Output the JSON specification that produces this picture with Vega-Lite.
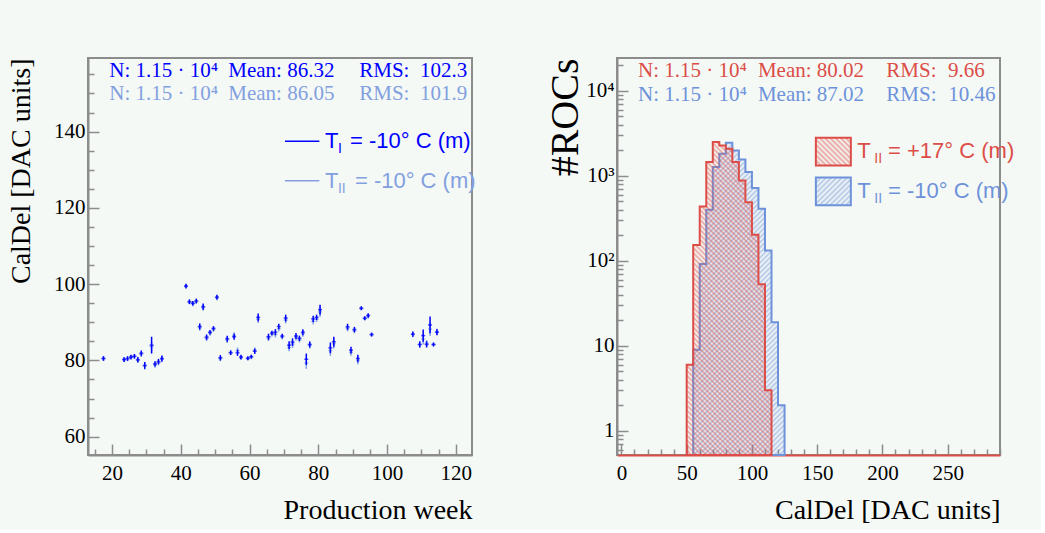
{
"$schema": "https://vega.github.io/schema/vega-lite/v6.json",
"background": "#f5f9f6",
"padding": {"left": 6, "top": 53, "right": 25, "bottom": 5},
"config": {
 "view": {"stroke": "#8c8c8c", "strokeWidth": 2},
 "axis": {"labelFont": "Liberation Serif", "titleFont": "Liberation Serif", "labelFontSize": 21, "titleFontSize": 28, "titleFontWeight": "normal", "labelColor": "#000000", "titleColor": "#000000", "domainColor": "#8c8c8c", "domainWidth": 2, "tickColor": "#8c8c8c", "tickWidth": 1.5, "grid": false, "labelFlush": false, "labelOverlap": false, "labelBound": false}
},
"bounds": "flush",
"spacing": 145,
"datasets": {
 "weekly": [
  {"s":"II","week":17.5,"v":80.5,"e":0.6},{"s":"II","week":23.5,"v":80.3,"e":0.6},{"s":"II","week":24.5,"v":80.4,"e":0.6},{"s":"II","week":25.5,"v":80.8,"e":0.6},{"s":"II","week":26.5,"v":81.0,"e":0.6},{"s":"II","week":27.5,"v":80.0,"e":0.7},{"s":"II","week":28.5,"v":81.6,"e":0.7},{"s":"II","week":29.5,"v":78.5,"e":0.9},{"s":"II","week":31.5,"v":83.6,"e":1.2},{"s":"II","week":32.5,"v":78.8,"e":0.7},{"s":"II","week":33.5,"v":79.4,"e":0.7},{"s":"II","week":34.5,"v":80.3,"e":0.8},
  {"s":"II","week":41.5,"v":99.4,"e":0.6},{"s":"II","week":42.5,"v":95.3,"e":0.6},{"s":"II","week":43.5,"v":94.8,"e":0.6},{"s":"II","week":44.5,"v":95.4,"e":0.6},{"s":"II","week":45.5,"v":88.6,"e":0.8},{"s":"II","week":46.5,"v":93.8,"e":0.8},{"s":"II","week":47.5,"v":85.8,"e":0.7},{"s":"II","week":48.5,"v":87.1,"e":0.6},{"s":"II","week":49.5,"v":88.1,"e":0.6},{"s":"II","week":50.5,"v":96.4,"e":0.6},{"s":"II","week":51.5,"v":80.5,"e":0.7},{"s":"II","week":53.5,"v":85.4,"e":0.8},{"s":"II","week":54.5,"v":82.1,"e":0.6},{"s":"II","week":55.5,"v":86.6,"e":0.8},{"s":"II","week":56.5,"v":82.6,"e":0.8},{"s":"II","week":57.5,"v":80.7,"e":0.6},{"s":"II","week":59.5,"v":80.4,"e":0.5},{"s":"II","week":60.5,"v":80.8,"e":0.5},{"s":"II","week":61.5,"v":82.7,"e":0.7},{"s":"II","week":62.5,"v":90.8,"e":1.0},
  {"s":"II","week":65.5,"v":85.9,"e":0.8},{"s":"II","week":66.5,"v":86.9,"e":0.6},{"s":"II","week":67.5,"v":86.8,"e":0.8},{"s":"II","week":68.5,"v":88.3,"e":0.7},{"s":"II","week":69.5,"v":86.1,"e":0.6},{"s":"II","week":70.5,"v":90.6,"e":0.9},{"s":"II","week":71.5,"v":83.4,"e":1.0},{"s":"II","week":72.5,"v":84.3,"e":1.0},{"s":"II","week":73.5,"v":86.0,"e":0.8},{"s":"II","week":74.5,"v":85.4,"e":0.7},{"s":"II","week":75.5,"v":87.0,"e":0.8},{"s":"II","week":76.5,"v":79.3,"e":1.5},{"s":"II","week":77.5,"v":83.9,"e":0.8},{"s":"II","week":78.5,"v":90.2,"e":0.8},{"s":"II","week":79.5,"v":90.8,"e":0.7},{"s":"II","week":80.5,"v":92.7,"e":1.3},
  {"s":"II","week":83.5,"v":82.6,"e":1.4},{"s":"II","week":84.5,"v":84.4,"e":1.3},{"s":"II","week":88.5,"v":88.4,"e":0.8},{"s":"II","week":89.5,"v":82.1,"e":0.9},{"s":"II","week":90.5,"v":87.8,"e":0.7},{"s":"II","week":91.5,"v":80.0,"e":1.0},{"s":"II","week":92.5,"v":93.6,"e":0.5},{"s":"II","week":93.5,"v":90.9,"e":0.5},{"s":"II","week":94.5,"v":91.6,"e":0.6},{"s":"II","week":95.5,"v":86.7,"e":0.5},
  {"s":"II","week":107.5,"v":86.8,"e":0.7},{"s":"II","week":109.5,"v":84.1,"e":0.8},{"s":"II","week":110.5,"v":85.6,"e":1.4},{"s":"II","week":111.5,"v":84.5,"e":0.8},{"s":"II","week":112.5,"v":88.2,"e":1.8},{"s":"II","week":113.5,"v":84.1,"e":0.5},{"s":"II","week":114.5,"v":87.5,"e":0.8},
  {"s":"I","week":17.5,"v":80.5,"e":0.6},{"s":"I","week":23.5,"v":80.2,"e":0.6},{"s":"I","week":24.5,"v":80.5,"e":0.6},{"s":"I","week":25.5,"v":80.9,"e":0.6},{"s":"I","week":26.5,"v":81.1,"e":0.6},{"s":"I","week":27.5,"v":80.2,"e":0.7},{"s":"I","week":28.5,"v":81.9,"e":0.7},{"s":"I","week":29.5,"v":78.7,"e":0.9},{"s":"I","week":31.5,"v":84.0,"e":2.2},{"s":"I","week":32.5,"v":79.1,"e":0.7},{"s":"I","week":33.5,"v":79.7,"e":0.7},{"s":"I","week":34.5,"v":80.5,"e":0.8},
  {"s":"I","week":41.5,"v":99.5,"e":0.6},{"s":"I","week":42.5,"v":95.4,"e":0.6},{"s":"I","week":43.5,"v":95.0,"e":0.6},{"s":"I","week":44.5,"v":95.6,"e":0.6},{"s":"I","week":45.5,"v":88.9,"e":0.8},{"s":"I","week":46.5,"v":94.1,"e":0.8},{"s":"I","week":47.5,"v":86.1,"e":0.7},{"s":"I","week":48.5,"v":87.4,"e":0.6},{"s":"I","week":49.5,"v":88.4,"e":0.6},{"s":"I","week":50.5,"v":96.6,"e":0.6},{"s":"I","week":51.5,"v":80.7,"e":0.7},{"s":"I","week":53.5,"v":85.7,"e":0.8},{"s":"I","week":54.5,"v":82.0,"e":0.6},{"s":"I","week":55.5,"v":86.2,"e":0.8},{"s":"I","week":56.5,"v":82.0,"e":0.8},{"s":"I","week":57.5,"v":80.9,"e":0.6},{"s":"I","week":59.5,"v":80.6,"e":0.5},{"s":"I","week":60.5,"v":81.0,"e":0.5},{"s":"I","week":61.5,"v":82.4,"e":0.7},{"s":"I","week":62.5,"v":91.3,"e":1.0},
  {"s":"I","week":65.5,"v":86.2,"e":0.8},{"s":"I","week":66.5,"v":87.2,"e":0.6},{"s":"I","week":67.5,"v":87.4,"e":0.8},{"s":"I","week":68.5,"v":88.9,"e":0.7},{"s":"I","week":69.5,"v":86.4,"e":0.6},{"s":"I","week":70.5,"v":91.1,"e":0.9},{"s":"I","week":71.5,"v":84.0,"e":1.0},{"s":"I","week":72.5,"v":84.8,"e":1.0},{"s":"I","week":73.5,"v":86.4,"e":0.8},{"s":"I","week":74.5,"v":85.8,"e":0.7},{"s":"I","week":75.5,"v":87.4,"e":0.8},{"s":"I","week":76.5,"v":80.3,"e":1.5},{"s":"I","week":77.5,"v":84.2,"e":0.8},{"s":"I","week":78.5,"v":90.9,"e":0.8},{"s":"I","week":79.5,"v":91.3,"e":0.7},{"s":"I","week":80.5,"v":93.3,"e":1.3},
  {"s":"I","week":83.5,"v":83.3,"e":1.4},{"s":"I","week":84.5,"v":84.9,"e":1.3},{"s":"I","week":88.5,"v":88.8,"e":0.8},{"s":"I","week":89.5,"v":82.7,"e":0.9},{"s":"I","week":90.5,"v":88.1,"e":0.7},{"s":"I","week":91.5,"v":80.5,"e":1.0},{"s":"I","week":92.5,"v":93.7,"e":0.5},{"s":"I","week":93.5,"v":91.1,"e":0.5},{"s":"I","week":94.5,"v":91.8,"e":0.6},{"s":"I","week":95.5,"v":86.8,"e":0.5},
  {"s":"I","week":107.5,"v":86.9,"e":0.7},{"s":"I","week":109.5,"v":84.2,"e":0.8},{"s":"I","week":110.5,"v":86.5,"e":1.6},{"s":"I","week":111.5,"v":84.2,"e":0.8},{"s":"I","week":112.5,"v":89.3,"e":2.2},{"s":"I","week":113.5,"v":84.2,"e":0.5},{"s":"I","week":114.5,"v":87.4,"e":0.8}
 ],
 "red": [
  {"lo":50,"hi":55,"n":6},{"lo":55,"hi":60,"n":154},{"lo":60,"hi":65,"n":435},{"lo":65,"hi":70,"n":1450},{"lo":70,"hi":75,"n":2490},{"lo":75,"hi":80,"n":2275},{"lo":80,"hi":85,"n":2080},{"lo":85,"hi":90,"n":1450},{"lo":90,"hi":95,"n":880},{"lo":95,"hi":100,"n":490},{"lo":100,"hi":105,"n":202},{"lo":105,"hi":110,"n":53},{"lo":110,"hi":115,"n":3}
 ],
 "blue": [
  {"lo":55,"hi":60,"n":9},{"lo":60,"hi":65,"n":92},{"lo":65,"hi":70,"n":398},{"lo":70,"hi":75,"n":1266},{"lo":75,"hi":80,"n":1815},{"lo":80,"hi":85,"n":2445},{"lo":85,"hi":90,"n":1985},{"lo":90,"hi":95,"n":1555},{"lo":95,"hi":100,"n":1105},{"lo":100,"hi":105,"n":717},{"lo":105,"hi":110,"n":409},{"lo":110,"hi":115,"n":132},{"lo":115,"hi":120,"n":19},{"lo":120,"hi":125,"n":2}
 ]
},
"hconcat": [
 {
  "width": 384, "height": 397,
  "data": {"values": [{}]},
  "resolve": {"axis": {"x": "independent", "y": "independent"}},
  "layer": [
   {"data": {"name": "weekly"}, "transform": [{"filter": "datum.s == 'II'"}],
    "mark": {"type": "tick", "orient": "horizontal", "size": 4, "thickness": 1.5, "color": "#82a0e0"},
    "encoding": {
     "x": {"field": "week", "type": "quantitative", "scale": {"domain": [13, 124.7], "nice": false, "zero": false},
      "axis": {"title": "Production week", "titleAnchor": "end", "titlePadding": 8,
       "values": [15,20,25,30,35,40,45,50,55,60,65,70,75,80,85,90,95,100,105,110,115,120],
       "labelExpr": "datum.value % 20 == 0 ? datum.label : ''",
       "tickSize": {"condition": {"test": "datum.value % 20 == 0", "value": -11}, "value": -6},
       "labelPadding": 18}},
     "y": {"field": "v", "type": "quantitative", "scale": {"domain": [55.2, 159.3], "nice": false, "zero": false},
      "axis": {"title": "CalDel [DAC units]", "titleAnchor": "end", "titlePadding": 18,
       "values": [60,65,70,75,80,85,90,95,100,105,110,115,120,125,130,135,140,145,150,155],
       "labelExpr": "datum.value % 20 == 0 ? datum.label : ''",
       "tickSize": {"condition": {"test": "datum.value % 20 == 0", "value": -11}, "value": -6},
       "labelPadding": 14}}
    }},
   {"data": {"name": "weekly"}, "transform": [{"filter": "datum.s == 'II'"}],
    "mark": {"type": "errorbar", "ticks": false, "color": "#82a0e0", "thickness": 1.5},
    "encoding": {"x": {"field": "week", "type": "quantitative", "axis": null}, "y": {"field": "v", "type": "quantitative", "axis": null}, "yError": {"field": "e"}}},
   {"data": {"name": "weekly"}, "transform": [{"filter": "datum.s == 'I'"}],
    "mark": {"type": "errorbar", "ticks": false, "color": "#0000ff", "thickness": 1.5},
    "encoding": {"x": {"field": "week", "type": "quantitative", "axis": null}, "y": {"field": "v", "type": "quantitative", "axis": null}, "yError": {"field": "e"}}},
   {"data": {"name": "weekly"}, "transform": [{"filter": "datum.s == 'I'"}],
    "mark": {"type": "tick", "orient": "horizontal", "size": 4, "thickness": 1.5, "color": "#0000ff"},
    "encoding": {"x": {"field": "week", "type": "quantitative", "axis": null}, "y": {"field": "v", "type": "quantitative", "axis": null}}},
   {"mark": {"type": "text", "text": "N: 1.15 · 10⁴", "align": "left", "baseline": "middle", "font": "Liberation Serif", "fontSize": 21, "color": "#0000ff"},
    "encoding": {"x": {"datum": 19.2, "type": "quantitative", "axis": null}, "y": {"datum": 155.97, "type": "quantitative", "axis": null}}},
   {"mark": {"type": "text", "text": "Mean: 86.32", "align": "left", "baseline": "middle", "font": "Liberation Serif", "fontSize": 21, "color": "#0000ff"},
    "encoding": {"x": {"datum": 53.8, "type": "quantitative", "axis": null}, "y": {"datum": 155.97, "type": "quantitative", "axis": null}}},
   {"mark": {"type": "text", "text": "RMS:", "align": "left", "baseline": "middle", "font": "Liberation Serif", "fontSize": 21, "color": "#0000ff"},
    "encoding": {"x": {"datum": 91.9, "type": "quantitative", "axis": null}, "y": {"datum": 155.97, "type": "quantitative", "axis": null}}},
   {"mark": {"type": "text", "text": "102.3", "align": "left", "baseline": "middle", "font": "Liberation Serif", "fontSize": 21, "color": "#0000ff"},
    "encoding": {"x": {"datum": 109.6, "type": "quantitative", "axis": null}, "y": {"datum": 155.97, "type": "quantitative", "axis": null}}},
   {"mark": {"type": "text", "text": "N: 1.15 · 10⁴", "align": "left", "baseline": "middle", "font": "Liberation Serif", "fontSize": 21, "color": "#82a0e0"},
    "encoding": {"x": {"datum": 19.2, "type": "quantitative", "axis": null}, "y": {"datum": 149.86, "type": "quantitative", "axis": null}}},
   {"mark": {"type": "text", "text": "Mean: 86.05", "align": "left", "baseline": "middle", "font": "Liberation Serif", "fontSize": 21, "color": "#82a0e0"},
    "encoding": {"x": {"datum": 53.8, "type": "quantitative", "axis": null}, "y": {"datum": 149.86, "type": "quantitative", "axis": null}}},
   {"mark": {"type": "text", "text": "RMS:", "align": "left", "baseline": "middle", "font": "Liberation Serif", "fontSize": 21, "color": "#82a0e0"},
    "encoding": {"x": {"datum": 91.9, "type": "quantitative", "axis": null}, "y": {"datum": 149.86, "type": "quantitative", "axis": null}}},
   {"mark": {"type": "text", "text": "101.9", "align": "left", "baseline": "middle", "font": "Liberation Serif", "fontSize": 21, "color": "#82a0e0"},
    "encoding": {"x": {"datum": 109.6, "type": "quantitative", "axis": null}, "y": {"datum": 149.86, "type": "quantitative", "axis": null}}},
   {"mark": {"type": "rule", "color": "#0000ff", "strokeWidth": 1.5},
    "encoding": {"x": {"datum": 70.3, "type": "quantitative", "axis": null}, "x2": {"datum": 80.3}, "y": {"datum": 137.46, "type": "quantitative", "axis": null}}},
   {"mark": {"type": "rule", "color": "#82a0e0", "strokeWidth": 1.5},
    "encoding": {"x": {"datum": 70.3, "type": "quantitative", "axis": null}, "x2": {"datum": 80.3}, "y": {"datum": 127.13, "type": "quantitative", "axis": null}}},
   {"mark": {"type": "text", "text": "T", "align": "left", "baseline": "middle", "font": "Liberation Sans", "fontSize": 22, "color": "#0000ff"},
    "encoding": {"x": {"datum": 81.96, "type": "quantitative", "axis": null}, "y": {"datum": 137.46, "type": "quantitative", "axis": null}}},
   {"mark": {"type": "text", "text": "I", "align": "left", "baseline": "middle", "font": "Liberation Sans", "fontSize": 14, "dy": 8, "color": "#0000ff"},
    "encoding": {"x": {"datum": 85.7, "type": "quantitative", "axis": null}, "y": {"datum": 137.46, "type": "quantitative", "axis": null}}},
   {"mark": {"type": "text", "text": "= -10° C (m)", "align": "left", "baseline": "middle", "font": "Liberation Sans", "fontSize": 22, "color": "#0000ff"},
    "encoding": {"x": {"datum": 89.2, "type": "quantitative", "axis": null}, "y": {"datum": 137.46, "type": "quantitative", "axis": null}}},
   {"mark": {"type": "text", "text": "T", "align": "left", "baseline": "middle", "font": "Liberation Sans", "fontSize": 22, "color": "#82a0e0"},
    "encoding": {"x": {"datum": 81.96, "type": "quantitative", "axis": null}, "y": {"datum": 127.13, "type": "quantitative", "axis": null}}},
   {"mark": {"type": "text", "text": "II", "align": "left", "baseline": "middle", "font": "Liberation Sans", "fontSize": 14, "dy": 8, "color": "#82a0e0"},
    "encoding": {"x": {"datum": 85.7, "type": "quantitative", "axis": null}, "y": {"datum": 127.13, "type": "quantitative", "axis": null}}},
   {"mark": {"type": "text", "text": "= -10° C (m)", "align": "left", "baseline": "middle", "font": "Liberation Sans", "fontSize": 22, "color": "#82a0e0"},
    "encoding": {"x": {"datum": 90.65, "type": "quantitative", "axis": null}, "y": {"datum": 127.13, "type": "quantitative", "axis": null}}}
  ]
 },
 {
  "width": 383, "height": 397,
  "data": {"values": [{}]},
  "resolve": {"axis": {"x": "independent", "y": "independent"}},
  "layer": [
   {"data": {"name": "blue"}, "transform": [{"fold": ["lo", "hi"], "as": ["edge", "xe"]}],
    "mark": {"type": "area", "interpolate": "linear", "stroke": "#6d92da", "strokeWidth": 2,
     "fill": {"gradient": "linear", "x1": 0, "y1": 0, "x2": 0.3484, "y2": 1.1907, "stops": [
      {"offset":0,"color":"#6d92da80"},{"offset":0.00625,"color":"#6d92da00"},{"offset":0.0125,"color":"#6d92da80"},{"offset":0.01875,"color":"#6d92da00"},{"offset":0.025,"color":"#6d92da80"},{"offset":0.03125,"color":"#6d92da00"},{"offset":0.0375,"color":"#6d92da80"},{"offset":0.04375,"color":"#6d92da00"},{"offset":0.05,"color":"#6d92da80"},{"offset":0.05625,"color":"#6d92da00"},{"offset":0.0625,"color":"#6d92da80"},{"offset":0.06875,"color":"#6d92da00"},{"offset":0.075,"color":"#6d92da80"},{"offset":0.08125,"color":"#6d92da00"},{"offset":0.0875,"color":"#6d92da80"},{"offset":0.09375,"color":"#6d92da00"},
      {"offset":0.1,"color":"#6d92da80"},{"offset":0.10625,"color":"#6d92da00"},{"offset":0.1125,"color":"#6d92da80"},{"offset":0.11875,"color":"#6d92da00"},{"offset":0.125,"color":"#6d92da80"},{"offset":0.13125,"color":"#6d92da00"},{"offset":0.1375,"color":"#6d92da80"},{"offset":0.14375,"color":"#6d92da00"},{"offset":0.15,"color":"#6d92da80"},{"offset":0.15625,"color":"#6d92da00"},{"offset":0.1625,"color":"#6d92da80"},{"offset":0.16875,"color":"#6d92da00"},{"offset":0.175,"color":"#6d92da80"},{"offset":0.18125,"color":"#6d92da00"},{"offset":0.1875,"color":"#6d92da80"},{"offset":0.19375,"color":"#6d92da00"},
      {"offset":0.2,"color":"#6d92da80"},{"offset":0.20625,"color":"#6d92da00"},{"offset":0.2125,"color":"#6d92da80"},{"offset":0.21875,"color":"#6d92da00"},{"offset":0.225,"color":"#6d92da80"},{"offset":0.23125,"color":"#6d92da00"},{"offset":0.2375,"color":"#6d92da80"},{"offset":0.24375,"color":"#6d92da00"},{"offset":0.25,"color":"#6d92da80"},{"offset":0.25625,"color":"#6d92da00"},{"offset":0.2625,"color":"#6d92da80"},{"offset":0.26875,"color":"#6d92da00"},{"offset":0.275,"color":"#6d92da80"},{"offset":0.28125,"color":"#6d92da00"},{"offset":0.2875,"color":"#6d92da80"},{"offset":0.29375,"color":"#6d92da00"},
      {"offset":0.3,"color":"#6d92da80"},{"offset":0.30625,"color":"#6d92da00"},{"offset":0.3125,"color":"#6d92da80"},{"offset":0.31875,"color":"#6d92da00"},{"offset":0.325,"color":"#6d92da80"},{"offset":0.33125,"color":"#6d92da00"},{"offset":0.3375,"color":"#6d92da80"},{"offset":0.34375,"color":"#6d92da00"},{"offset":0.35,"color":"#6d92da80"},{"offset":0.35625,"color":"#6d92da00"},{"offset":0.3625,"color":"#6d92da80"},{"offset":0.36875,"color":"#6d92da00"},{"offset":0.375,"color":"#6d92da80"},{"offset":0.38125,"color":"#6d92da00"},{"offset":0.3875,"color":"#6d92da80"},{"offset":0.39375,"color":"#6d92da00"},
      {"offset":0.4,"color":"#6d92da80"},{"offset":0.40625,"color":"#6d92da00"},{"offset":0.4125,"color":"#6d92da80"},{"offset":0.41875,"color":"#6d92da00"},{"offset":0.425,"color":"#6d92da80"},{"offset":0.43125,"color":"#6d92da00"},{"offset":0.4375,"color":"#6d92da80"},{"offset":0.44375,"color":"#6d92da00"},{"offset":0.45,"color":"#6d92da80"},{"offset":0.45625,"color":"#6d92da00"},{"offset":0.4625,"color":"#6d92da80"},{"offset":0.46875,"color":"#6d92da00"},{"offset":0.475,"color":"#6d92da80"},{"offset":0.48125,"color":"#6d92da00"},{"offset":0.4875,"color":"#6d92da80"},{"offset":0.49375,"color":"#6d92da00"},
      {"offset":0.5,"color":"#6d92da80"},{"offset":0.50625,"color":"#6d92da00"},{"offset":0.5125,"color":"#6d92da80"},{"offset":0.51875,"color":"#6d92da00"},{"offset":0.525,"color":"#6d92da80"},{"offset":0.53125,"color":"#6d92da00"},{"offset":0.5375,"color":"#6d92da80"},{"offset":0.54375,"color":"#6d92da00"},{"offset":0.55,"color":"#6d92da80"},{"offset":0.55625,"color":"#6d92da00"},{"offset":0.5625,"color":"#6d92da80"},{"offset":0.56875,"color":"#6d92da00"},{"offset":0.575,"color":"#6d92da80"},{"offset":0.58125,"color":"#6d92da00"},{"offset":0.5875,"color":"#6d92da80"},{"offset":0.59375,"color":"#6d92da00"},
      {"offset":0.6,"color":"#6d92da80"},{"offset":0.60625,"color":"#6d92da00"},{"offset":0.6125,"color":"#6d92da80"},{"offset":0.61875,"color":"#6d92da00"},{"offset":0.625,"color":"#6d92da80"},{"offset":0.63125,"color":"#6d92da00"},{"offset":0.6375,"color":"#6d92da80"},{"offset":0.64375,"color":"#6d92da00"},{"offset":0.65,"color":"#6d92da80"},{"offset":0.65625,"color":"#6d92da00"},{"offset":0.6625,"color":"#6d92da80"},{"offset":0.66875,"color":"#6d92da00"},{"offset":0.675,"color":"#6d92da80"},{"offset":0.68125,"color":"#6d92da00"},{"offset":0.6875,"color":"#6d92da80"},{"offset":0.69375,"color":"#6d92da00"},
      {"offset":0.7,"color":"#6d92da80"},{"offset":0.70625,"color":"#6d92da00"},{"offset":0.7125,"color":"#6d92da80"},{"offset":0.71875,"color":"#6d92da00"},{"offset":0.725,"color":"#6d92da80"},{"offset":0.73125,"color":"#6d92da00"},{"offset":0.7375,"color":"#6d92da80"},{"offset":0.74375,"color":"#6d92da00"},{"offset":0.75,"color":"#6d92da80"},{"offset":0.75625,"color":"#6d92da00"},{"offset":0.7625,"color":"#6d92da80"},{"offset":0.76875,"color":"#6d92da00"},{"offset":0.775,"color":"#6d92da80"},{"offset":0.78125,"color":"#6d92da00"},{"offset":0.7875,"color":"#6d92da80"},{"offset":0.79375,"color":"#6d92da00"},
      {"offset":0.8,"color":"#6d92da80"},{"offset":0.80625,"color":"#6d92da00"},{"offset":0.8125,"color":"#6d92da80"},{"offset":0.81875,"color":"#6d92da00"},{"offset":0.825,"color":"#6d92da80"},{"offset":0.83125,"color":"#6d92da00"},{"offset":0.8375,"color":"#6d92da80"},{"offset":0.84375,"color":"#6d92da00"},{"offset":0.85,"color":"#6d92da80"},{"offset":0.85625,"color":"#6d92da00"},{"offset":0.8625,"color":"#6d92da80"},{"offset":0.86875,"color":"#6d92da00"},{"offset":0.875,"color":"#6d92da80"},{"offset":0.88125,"color":"#6d92da00"},{"offset":0.8875,"color":"#6d92da80"},{"offset":0.89375,"color":"#6d92da00"},
      {"offset":0.9,"color":"#6d92da80"},{"offset":0.90625,"color":"#6d92da00"},{"offset":0.9125,"color":"#6d92da80"},{"offset":0.91875,"color":"#6d92da00"},{"offset":0.925,"color":"#6d92da80"},{"offset":0.93125,"color":"#6d92da00"},{"offset":0.9375,"color":"#6d92da80"},{"offset":0.94375,"color":"#6d92da00"},{"offset":0.95,"color":"#6d92da80"},{"offset":0.95625,"color":"#6d92da00"},{"offset":0.9625,"color":"#6d92da80"},{"offset":0.96875,"color":"#6d92da00"},{"offset":0.975,"color":"#6d92da80"},{"offset":0.98125,"color":"#6d92da00"},{"offset":0.9875,"color":"#6d92da80"},{"offset":0.99375,"color":"#6d92da00"},
      {"offset":1,"color":"#6d92da80"}]}},
    "encoding": {
     "x": {"field": "xe", "type": "quantitative", "scale": {"domain": [-3.4, 290.1], "nice": false, "zero": false},
      "axis": {"title": "CalDel [DAC units]", "titleAnchor": "end", "titlePadding": 8,
       "values": [0,10,20,30,40,50,60,70,80,90,100,110,120,130,140,150,160,170,180,190,200,210,220,230,240,250,260,270,280,290],
       "labelExpr": "datum.value % 50 == 0 ? datum.label : ''",
       "tickSize": {"condition": {"test": "datum.value % 50 == 0", "value": -11}, "value": -6},
       "labelPadding": 18, "domainColor": "#dc4d47"}},
     "y": {"field": "n", "type": "quantitative", "scale": {"type": "log", "domain": [0.52, 24300], "nice": false},
      "axis": {"title": "#ROCs", "titleAnchor": "end", "titlePadding": 0, "titleFontSize": 40,
       "values": [0.6,0.7,0.8,0.9,1,2,3,4,5,6,7,8,9,10,20,30,40,50,60,70,80,90,100,200,300,400,500,600,700,800,900,1000,2000,3000,4000,5000,6000,7000,8000,9000,10000,20000],
       "labelExpr": "datum.value == 1 ? '1' : datum.value == 10 ? '10' : datum.value == 100 ? '10²' : datum.value == 1000 ? '10³' : datum.value == 10000 ? '10⁴' : ''",
       "tickSize": {"condition": {"test": "indexof([1,10,100,1000,10000], datum.value) >= 0", "value": -11}, "value": -6},
       "labelPadding": 14}},
     "y2": {"datum": 0.52}
    }},
   {"data": {"name": "red"}, "transform": [{"fold": ["lo", "hi"], "as": ["edge", "xe"]}],
    "mark": {"type": "area", "interpolate": "linear", "stroke": "#dc4d47", "strokeWidth": 2,
     "fill": {"gradient": "linear", "x1": 0, "y1": 1, "x2": 0.3208, "y2": -0.1838, "stops": [
      {"offset":0,"color":"#dc4d4780"},{"offset":0.00625,"color":"#dc4d4700"},{"offset":0.0125,"color":"#dc4d4780"},{"offset":0.01875,"color":"#dc4d4700"},{"offset":0.025,"color":"#dc4d4780"},{"offset":0.03125,"color":"#dc4d4700"},{"offset":0.0375,"color":"#dc4d4780"},{"offset":0.04375,"color":"#dc4d4700"},{"offset":0.05,"color":"#dc4d4780"},{"offset":0.05625,"color":"#dc4d4700"},{"offset":0.0625,"color":"#dc4d4780"},{"offset":0.06875,"color":"#dc4d4700"},{"offset":0.075,"color":"#dc4d4780"},{"offset":0.08125,"color":"#dc4d4700"},{"offset":0.0875,"color":"#dc4d4780"},{"offset":0.09375,"color":"#dc4d4700"},
      {"offset":0.1,"color":"#dc4d4780"},{"offset":0.10625,"color":"#dc4d4700"},{"offset":0.1125,"color":"#dc4d4780"},{"offset":0.11875,"color":"#dc4d4700"},{"offset":0.125,"color":"#dc4d4780"},{"offset":0.13125,"color":"#dc4d4700"},{"offset":0.1375,"color":"#dc4d4780"},{"offset":0.14375,"color":"#dc4d4700"},{"offset":0.15,"color":"#dc4d4780"},{"offset":0.15625,"color":"#dc4d4700"},{"offset":0.1625,"color":"#dc4d4780"},{"offset":0.16875,"color":"#dc4d4700"},{"offset":0.175,"color":"#dc4d4780"},{"offset":0.18125,"color":"#dc4d4700"},{"offset":0.1875,"color":"#dc4d4780"},{"offset":0.19375,"color":"#dc4d4700"},
      {"offset":0.2,"color":"#dc4d4780"},{"offset":0.20625,"color":"#dc4d4700"},{"offset":0.2125,"color":"#dc4d4780"},{"offset":0.21875,"color":"#dc4d4700"},{"offset":0.225,"color":"#dc4d4780"},{"offset":0.23125,"color":"#dc4d4700"},{"offset":0.2375,"color":"#dc4d4780"},{"offset":0.24375,"color":"#dc4d4700"},{"offset":0.25,"color":"#dc4d4780"},{"offset":0.25625,"color":"#dc4d4700"},{"offset":0.2625,"color":"#dc4d4780"},{"offset":0.26875,"color":"#dc4d4700"},{"offset":0.275,"color":"#dc4d4780"},{"offset":0.28125,"color":"#dc4d4700"},{"offset":0.2875,"color":"#dc4d4780"},{"offset":0.29375,"color":"#dc4d4700"},
      {"offset":0.3,"color":"#dc4d4780"},{"offset":0.30625,"color":"#dc4d4700"},{"offset":0.3125,"color":"#dc4d4780"},{"offset":0.31875,"color":"#dc4d4700"},{"offset":0.325,"color":"#dc4d4780"},{"offset":0.33125,"color":"#dc4d4700"},{"offset":0.3375,"color":"#dc4d4780"},{"offset":0.34375,"color":"#dc4d4700"},{"offset":0.35,"color":"#dc4d4780"},{"offset":0.35625,"color":"#dc4d4700"},{"offset":0.3625,"color":"#dc4d4780"},{"offset":0.36875,"color":"#dc4d4700"},{"offset":0.375,"color":"#dc4d4780"},{"offset":0.38125,"color":"#dc4d4700"},{"offset":0.3875,"color":"#dc4d4780"},{"offset":0.39375,"color":"#dc4d4700"},
      {"offset":0.4,"color":"#dc4d4780"},{"offset":0.40625,"color":"#dc4d4700"},{"offset":0.4125,"color":"#dc4d4780"},{"offset":0.41875,"color":"#dc4d4700"},{"offset":0.425,"color":"#dc4d4780"},{"offset":0.43125,"color":"#dc4d4700"},{"offset":0.4375,"color":"#dc4d4780"},{"offset":0.44375,"color":"#dc4d4700"},{"offset":0.45,"color":"#dc4d4780"},{"offset":0.45625,"color":"#dc4d4700"},{"offset":0.4625,"color":"#dc4d4780"},{"offset":0.46875,"color":"#dc4d4700"},{"offset":0.475,"color":"#dc4d4780"},{"offset":0.48125,"color":"#dc4d4700"},{"offset":0.4875,"color":"#dc4d4780"},{"offset":0.49375,"color":"#dc4d4700"},
      {"offset":0.5,"color":"#dc4d4780"},{"offset":0.50625,"color":"#dc4d4700"},{"offset":0.5125,"color":"#dc4d4780"},{"offset":0.51875,"color":"#dc4d4700"},{"offset":0.525,"color":"#dc4d4780"},{"offset":0.53125,"color":"#dc4d4700"},{"offset":0.5375,"color":"#dc4d4780"},{"offset":0.54375,"color":"#dc4d4700"},{"offset":0.55,"color":"#dc4d4780"},{"offset":0.55625,"color":"#dc4d4700"},{"offset":0.5625,"color":"#dc4d4780"},{"offset":0.56875,"color":"#dc4d4700"},{"offset":0.575,"color":"#dc4d4780"},{"offset":0.58125,"color":"#dc4d4700"},{"offset":0.5875,"color":"#dc4d4780"},{"offset":0.59375,"color":"#dc4d4700"},
      {"offset":0.6,"color":"#dc4d4780"},{"offset":0.60625,"color":"#dc4d4700"},{"offset":0.6125,"color":"#dc4d4780"},{"offset":0.61875,"color":"#dc4d4700"},{"offset":0.625,"color":"#dc4d4780"},{"offset":0.63125,"color":"#dc4d4700"},{"offset":0.6375,"color":"#dc4d4780"},{"offset":0.64375,"color":"#dc4d4700"},{"offset":0.65,"color":"#dc4d4780"},{"offset":0.65625,"color":"#dc4d4700"},{"offset":0.6625,"color":"#dc4d4780"},{"offset":0.66875,"color":"#dc4d4700"},{"offset":0.675,"color":"#dc4d4780"},{"offset":0.68125,"color":"#dc4d4700"},{"offset":0.6875,"color":"#dc4d4780"},{"offset":0.69375,"color":"#dc4d4700"},
      {"offset":0.7,"color":"#dc4d4780"},{"offset":0.70625,"color":"#dc4d4700"},{"offset":0.7125,"color":"#dc4d4780"},{"offset":0.71875,"color":"#dc4d4700"},{"offset":0.725,"color":"#dc4d4780"},{"offset":0.73125,"color":"#dc4d4700"},{"offset":0.7375,"color":"#dc4d4780"},{"offset":0.74375,"color":"#dc4d4700"},{"offset":0.75,"color":"#dc4d4780"},{"offset":0.75625,"color":"#dc4d4700"},{"offset":0.7625,"color":"#dc4d4780"},{"offset":0.76875,"color":"#dc4d4700"},{"offset":0.775,"color":"#dc4d4780"},{"offset":0.78125,"color":"#dc4d4700"},{"offset":0.7875,"color":"#dc4d4780"},{"offset":0.79375,"color":"#dc4d4700"},
      {"offset":0.8,"color":"#dc4d4780"},{"offset":0.80625,"color":"#dc4d4700"},{"offset":0.8125,"color":"#dc4d4780"},{"offset":0.81875,"color":"#dc4d4700"},{"offset":0.825,"color":"#dc4d4780"},{"offset":0.83125,"color":"#dc4d4700"},{"offset":0.8375,"color":"#dc4d4780"},{"offset":0.84375,"color":"#dc4d4700"},{"offset":0.85,"color":"#dc4d4780"},{"offset":0.85625,"color":"#dc4d4700"},{"offset":0.8625,"color":"#dc4d4780"},{"offset":0.86875,"color":"#dc4d4700"},{"offset":0.875,"color":"#dc4d4780"},{"offset":0.88125,"color":"#dc4d4700"},{"offset":0.8875,"color":"#dc4d4780"},{"offset":0.89375,"color":"#dc4d4700"},
      {"offset":0.9,"color":"#dc4d4780"},{"offset":0.90625,"color":"#dc4d4700"},{"offset":0.9125,"color":"#dc4d4780"},{"offset":0.91875,"color":"#dc4d4700"},{"offset":0.925,"color":"#dc4d4780"},{"offset":0.93125,"color":"#dc4d4700"},{"offset":0.9375,"color":"#dc4d4780"},{"offset":0.94375,"color":"#dc4d4700"},{"offset":0.95,"color":"#dc4d4780"},{"offset":0.95625,"color":"#dc4d4700"},{"offset":0.9625,"color":"#dc4d4780"},{"offset":0.96875,"color":"#dc4d4700"},{"offset":0.975,"color":"#dc4d4780"},{"offset":0.98125,"color":"#dc4d4700"},{"offset":0.9875,"color":"#dc4d4780"},{"offset":0.99375,"color":"#dc4d4700"},
      {"offset":1,"color":"#dc4d4780"}]}},
    "encoding": {"x": {"field": "xe", "type": "quantitative", "axis": null}, "y": {"field": "n", "type": "quantitative", "axis": null}, "y2": {"datum": 0.52}}},
   {"mark": {"type": "text", "text": "N: 1.15 · 10⁴", "align": "left", "baseline": "middle", "font": "Liberation Serif", "fontSize": 21, "color": "#dc4d47"},
    "encoding": {"x": {"datum": 12.7, "type": "quantitative", "axis": null}, "y": {"datum": 17220, "type": "quantitative", "axis": null}}},
   {"mark": {"type": "text", "text": "Mean: 80.02", "align": "left", "baseline": "middle", "font": "Liberation Serif", "fontSize": 21, "color": "#dc4d47"},
    "encoding": {"x": {"datum": 104.6, "type": "quantitative", "axis": null}, "y": {"datum": 17220, "type": "quantitative", "axis": null}}},
   {"mark": {"type": "text", "text": "RMS:", "align": "left", "baseline": "middle", "font": "Liberation Serif", "fontSize": 21, "color": "#dc4d47"},
    "encoding": {"x": {"datum": 203.0, "type": "quantitative", "axis": null}, "y": {"datum": 17220, "type": "quantitative", "axis": null}}},
   {"mark": {"type": "text", "text": "9.66", "align": "left", "baseline": "middle", "font": "Liberation Serif", "fontSize": 21, "color": "#dc4d47"},
    "encoding": {"x": {"datum": 250.2, "type": "quantitative", "axis": null}, "y": {"datum": 17220, "type": "quantitative", "axis": null}}},
   {"mark": {"type": "text", "text": "N: 1.15 · 10⁴", "align": "left", "baseline": "middle", "font": "Liberation Serif", "fontSize": 21, "color": "#6d92da"},
    "encoding": {"x": {"datum": 12.7, "type": "quantitative", "axis": null}, "y": {"datum": 9040, "type": "quantitative", "axis": null}}},
   {"mark": {"type": "text", "text": "Mean: 87.02", "align": "left", "baseline": "middle", "font": "Liberation Serif", "fontSize": 21, "color": "#6d92da"},
    "encoding": {"x": {"datum": 104.6, "type": "quantitative", "axis": null}, "y": {"datum": 9040, "type": "quantitative", "axis": null}}},
   {"mark": {"type": "text", "text": "RMS:", "align": "left", "baseline": "middle", "font": "Liberation Serif", "fontSize": 21, "color": "#6d92da"},
    "encoding": {"x": {"datum": 203.0, "type": "quantitative", "axis": null}, "y": {"datum": 9040, "type": "quantitative", "axis": null}}},
   {"mark": {"type": "text", "text": "10.46", "align": "left", "baseline": "middle", "font": "Liberation Serif", "fontSize": 21, "color": "#6d92da"},
    "encoding": {"x": {"datum": 250.5, "type": "quantitative", "axis": null}, "y": {"datum": 9040, "type": "quantitative", "axis": null}}},
   {"mark": {"type": "rect", "stroke": "#dc4d47", "strokeWidth": 2,
     "fill": {"gradient": "linear", "x1": 0, "y1": 1, "x2": 1.099, "y2": 0.124, "stops": [
      {"offset":0,"color":"#dc4d4780"},{"offset":0.04167,"color":"#dc4d4700"},{"offset":0.08333,"color":"#dc4d4780"},{"offset":0.125,"color":"#dc4d4700"},{"offset":0.16667,"color":"#dc4d4780"},{"offset":0.20833,"color":"#dc4d4700"},{"offset":0.25,"color":"#dc4d4780"},{"offset":0.29167,"color":"#dc4d4700"},{"offset":0.33333,"color":"#dc4d4780"},{"offset":0.375,"color":"#dc4d4700"},{"offset":0.41667,"color":"#dc4d4780"},{"offset":0.45833,"color":"#dc4d4700"},{"offset":0.5,"color":"#dc4d4780"},{"offset":0.54167,"color":"#dc4d4700"},{"offset":0.58333,"color":"#dc4d4780"},{"offset":0.625,"color":"#dc4d4700"},{"offset":0.66667,"color":"#dc4d4780"},{"offset":0.70833,"color":"#dc4d4700"},{"offset":0.75,"color":"#dc4d4780"},{"offset":0.79167,"color":"#dc4d4700"},{"offset":0.83333,"color":"#dc4d4780"},{"offset":0.875,"color":"#dc4d4700"},{"offset":0.91667,"color":"#dc4d4780"},{"offset":0.95833,"color":"#dc4d4700"},{"offset":1,"color":"#dc4d4780"}]}},
    "encoding": {"x": {"datum": 149.0, "type": "quantitative", "axis": null}, "x2": {"datum": 175.8}, "y": {"datum": 2806, "type": "quantitative", "axis": null}, "y2": {"datum": 1318}}},
   {"mark": {"type": "rect", "stroke": "#6d92da", "strokeWidth": 2,
     "fill": {"gradient": "linear", "x1": 0, "y1": 0, "x2": 1.099, "y2": 0.876, "stops": [
      {"offset":0,"color":"#6d92da80"},{"offset":0.04167,"color":"#6d92da00"},{"offset":0.08333,"color":"#6d92da80"},{"offset":0.125,"color":"#6d92da00"},{"offset":0.16667,"color":"#6d92da80"},{"offset":0.20833,"color":"#6d92da00"},{"offset":0.25,"color":"#6d92da80"},{"offset":0.29167,"color":"#6d92da00"},{"offset":0.33333,"color":"#6d92da80"},{"offset":0.375,"color":"#6d92da00"},{"offset":0.41667,"color":"#6d92da80"},{"offset":0.45833,"color":"#6d92da00"},{"offset":0.5,"color":"#6d92da80"},{"offset":0.54167,"color":"#6d92da00"},{"offset":0.58333,"color":"#6d92da80"},{"offset":0.625,"color":"#6d92da00"},{"offset":0.66667,"color":"#6d92da80"},{"offset":0.70833,"color":"#6d92da00"},{"offset":0.75,"color":"#6d92da80"},{"offset":0.79167,"color":"#6d92da00"},{"offset":0.83333,"color":"#6d92da80"},{"offset":0.875,"color":"#6d92da00"},{"offset":0.91667,"color":"#6d92da80"},{"offset":0.95833,"color":"#6d92da00"},{"offset":1,"color":"#6d92da80"}]}},
    "encoding": {"x": {"datum": 149.0, "type": "quantitative", "axis": null}, "x2": {"datum": 175.8}, "y": {"datum": 955, "type": "quantitative", "axis": null}, "y2": {"datum": 449}}},
   {"mark": {"type": "text", "text": "T", "align": "left", "baseline": "middle", "font": "Liberation Sans", "fontSize": 22, "color": "#dc4d47"},
    "encoding": {"x": {"datum": 180.8, "type": "quantitative", "axis": null}, "y": {"datum": 1963, "type": "quantitative", "axis": null}}},
   {"mark": {"type": "text", "text": "II", "align": "left", "baseline": "middle", "font": "Liberation Sans", "fontSize": 14, "dy": 8, "color": "#dc4d47"},
    "encoding": {"x": {"datum": 193.8, "type": "quantitative", "axis": null}, "y": {"datum": 1963, "type": "quantitative", "axis": null}}},
   {"mark": {"type": "text", "text": "= +17° C (m)", "align": "left", "baseline": "middle", "font": "Liberation Sans", "fontSize": 22, "color": "#dc4d47"},
    "encoding": {"x": {"datum": 204.3, "type": "quantitative", "axis": null}, "y": {"datum": 1963, "type": "quantitative", "axis": null}}},
   {"mark": {"type": "text", "text": "T", "align": "left", "baseline": "middle", "font": "Liberation Sans", "fontSize": 22, "color": "#6d92da"},
    "encoding": {"x": {"datum": 180.8, "type": "quantitative", "axis": null}, "y": {"datum": 654, "type": "quantitative", "axis": null}}},
   {"mark": {"type": "text", "text": "II", "align": "left", "baseline": "middle", "font": "Liberation Sans", "fontSize": 14, "dy": 8, "color": "#6d92da"},
    "encoding": {"x": {"datum": 193.8, "type": "quantitative", "axis": null}, "y": {"datum": 654, "type": "quantitative", "axis": null}}},
   {"mark": {"type": "text", "text": "= -10° C (m)", "align": "left", "baseline": "middle", "font": "Liberation Sans", "fontSize": 22, "color": "#6d92da"},
    "encoding": {"x": {"datum": 204.3, "type": "quantitative", "axis": null}, "y": {"datum": 654, "type": "quantitative", "axis": null}}}
  ]
 }
]
}
